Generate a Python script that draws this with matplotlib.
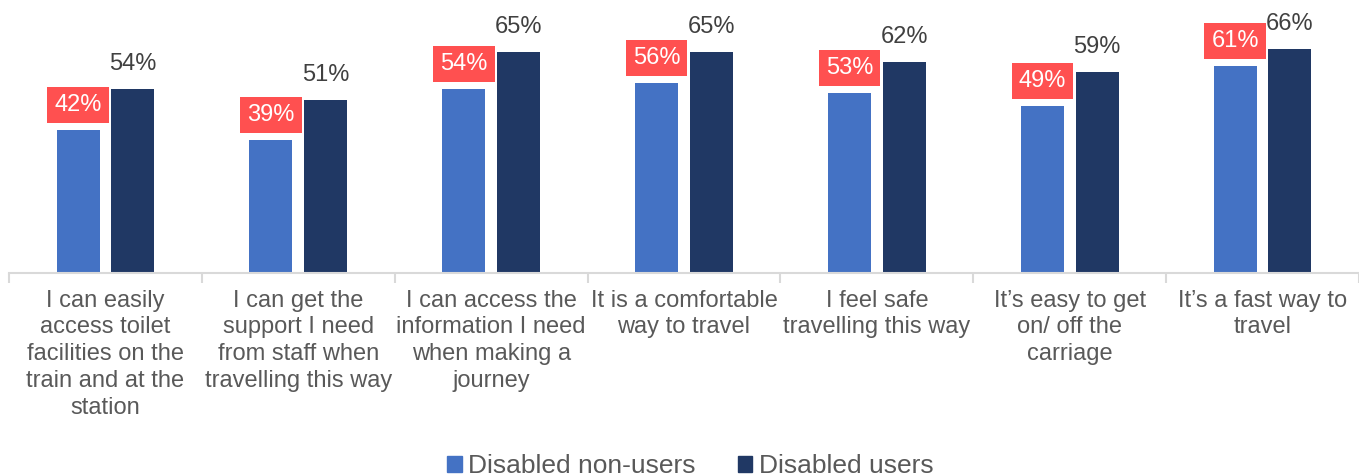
import numpy as np
from matplotlib import pyplot as plt
from matplotlib.patches import Patch

plt.rcParams['font.family'] = ['Liberation Sans', 'DejaVu Sans']

categories = [
    "I can easily\naccess toilet\nfacilities on the\ntrain and at the\nstation",
    "I can get the\nsupport I need\nfrom staff when\ntravelling this way",
    "I can access the\ninformation I need\nwhen making a\njourney",
    "It is a comfortable\nway to travel",
    "I feel safe\ntravelling this way",
    "It\u2019s easy to get\non/ off the\ncarriage",
    "It\u2019s a fast way to\ntravel",
]
non_users = [42, 39, 54, 56, 53, 49, 61]
users = [54, 51, 65, 65, 62, 59, 66]
series_names = ["Disabled non-users", "Disabled users"]

LIGHT = '#4472C4'
DARK = '#203864'
RED = '#FF5050'
GRID = '#D9D9D9'
TXT = '#595959'

fig = plt.figure(figsize=(13.59, 4.76), dpi=100)
ax = fig.add_axes([9/1359, 1 - 273/476, 1 - 9/1359, 272/476])

x = np.arange(len(categories))
w = 0.223
off = 0.142
ax.bar(x - off, non_users, w, color=LIGHT)
ax.bar(x + off, users, w, color=DARK)

for xi, v in zip(x, non_users):
    ax.annotate(f"{v}%", (xi - off, v), xytext=(0, 18), textcoords='offset points',
                ha='center', va='center', fontsize=17, color='white',
                bbox=dict(boxstyle='square,pad=0.3', fc=RED, ec='none'))
for xi, v in zip(x, users):
    ax.annotate(f"{v}%", (xi + off, v), xytext=(0, 18), textcoords='offset points',
                ha='center', va='center', fontsize=17, color='#404040')

ax.set_xlim(-0.5, len(categories) - 0.5)
ax.set_ylim(0, 80)
ax.set_yticks([])
for s in ['top', 'right', 'left']:
    ax.spines[s].set_visible(False)
ax.spines['bottom'].set_color(GRID)
ax.spines['bottom'].set_linewidth(1.5)

ax.set_xticks(np.arange(len(categories) + 1) - 0.5)
ax.set_xticklabels([])
ax.tick_params(axis='x', which='major', length=7, color=GRID, width=1.5)
ax.set_xticks(x, minor=True)
ax.set_xticklabels(categories, minor=True, fontsize=17, color=TXT, linespacing=1.28)
ax.tick_params(axis='x', which='minor', length=0, pad=12)

handles = [Patch(color=LIGHT), Patch(color=DARK)]
leg = fig.legend(handles, series_names, loc='center', bbox_to_anchor=(0.508, 0.02),
                 ncol=2, frameon=False, fontsize=19, handlelength=0.55, handleheight=0.55,
                 handletextpad=0.25, columnspacing=1.6)
for t in leg.get_texts():
    t.set_color(TXT)

fig.savefig('out.png', dpi=100)
